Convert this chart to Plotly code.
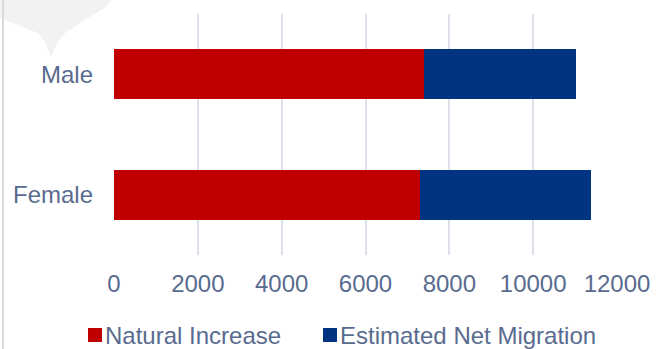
import plotly.graph_objects as go

# Population change components by sex
categories = ["Female", "Male"]
series_names = ["Natural Increase", "Estimated Net Migration"]
natural_increase = [7295, 7400]
net_migration = [4085, 3610]
x_ticks = [0, 2000, 4000, 6000, 8000, 10000, 12000]
x_tick_text = ["0", "2000", "4000", "6000", "8000", "10000", "12000"]

RED = "#C00000"
BLUE = "#003380"
TEXT = "#596b8f"
GRID = "#dde1ea"

W, H = 665, 349
L, R, T, B = 114, 48, 14, 94
PW, PH = W - L - R, H - T - B


def px_to_paper(px, py):
    return (px - L) / PW, (H - B - py) / PH


fig = go.Figure()
for name, vals, col in zip(series_names, [natural_increase, net_migration], [RED, BLUE]):
    fig.add_trace(go.Bar(
        y=categories, x=vals, name=name, orientation="h",
        marker=dict(color=col, line=dict(width=0)),
    ))

# faint logo mark in the top-left corner
logo_pts = [(0, 0), (112, 0), (104, 8), (66, 32), (58, 42), (51, 56),
            (45, 42), (38, 33), (0, 18)]
path = ""
for i, (px, py) in enumerate(logo_pts):
    xp, yp = px_to_paper(px, py)
    path += ("M" if i == 0 else "L") + f"{xp:.4f},{yp:.4f} "
path += "Z"

shapes = [
    dict(type="path", path=path, xref="paper", yref="paper",
         fillcolor="#f2f2f2", line=dict(width=0), layer="below"),
]
lx0, _ = px_to_paper(3, 0)
shapes.append(dict(type="line", xref="paper", yref="paper",
                   x0=lx0, x1=lx0, y0=px_to_paper(0, H)[1], y1=px_to_paper(0, 0)[1],
                   line=dict(color="#d9d9d9", width=2), layer="below"))

# single-row legend below the axis: swatch + label per series
annotations = []
legend_swatch_x = [88, 323]
legend_y = 335
for name, col, sx in zip(series_names, [RED, BLUE], legend_swatch_x):
    x0, y0 = px_to_paper(sx, legend_y + 7)
    x1, y1 = px_to_paper(sx + 14, legend_y - 7)
    shapes.append(dict(type="rect", xref="paper", yref="paper",
                       x0=x0, x1=x1, y0=y0, y1=y1,
                       fillcolor=col, line=dict(width=0)))
    tx, ty = px_to_paper(sx + 16, legend_y)
    annotations.append(dict(text=name, xref="paper", yref="paper",
                            x=tx, y=ty, xanchor="left", yanchor="middle",
                            showarrow=False, borderpad=0,
                            font=dict(size=24, color=TEXT)))

fig.update_layout(
    width=W, height=H,
    margin=dict(l=L, r=R, t=T, b=B, pad=0, autoexpand=False),
    barmode="stack",
    bargap=0.585,
    plot_bgcolor="white",
    paper_bgcolor="white",
    font=dict(family="Liberation Sans, Arial, sans-serif", size=24, color=TEXT),
    showlegend=False,
    xaxis=dict(
        range=[0, 12000], tickvals=x_ticks, ticktext=x_tick_text,
        showgrid=True, gridcolor=GRID, gridwidth=2,
        zeroline=False, showline=False,
        ticks="", ticklabelstandoff=12,
        tickfont=dict(size=24, color=TEXT),
    ),
    yaxis=dict(
        categoryorder="array", categoryarray=categories,
        showgrid=False, zeroline=False, showline=False,
        ticks="", ticklabelstandoff=20,
        tickfont=dict(size=24, color=TEXT),
    ),
    shapes=shapes,
    annotations=annotations,
)

fig.write_html("out.html")
